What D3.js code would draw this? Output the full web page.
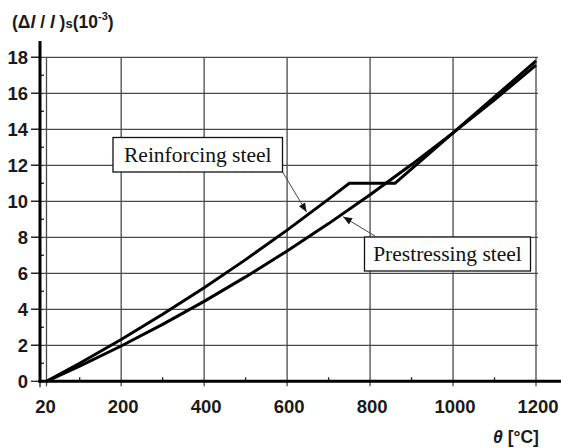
<!DOCTYPE html>
<html>
<head>
<meta charset="utf-8">
<script src="https://cdn.jsdelivr.net/npm/d3@7"></script>
<style>
  html, body { margin: 0; padding: 0; background: #fff; }
  svg { display: block; }
</style>
</head>
<body>
<svg id="chart" width="561" height="448"></svg>
<script>
// Thermal elongation of steel (×10⁻³) versus temperature θ [°C]
const reinforcingTemp = [20, 100, 200, 300, 400, 500, 600, 700, 750, 860, 900, 1000, 1100, 1200];
const reinforcingStrain = [0, 1.0, 2.32, 3.72, 5.2, 6.76, 8.4, 10.12, 11.0, 11.0, 11.8, 13.8, 15.8, 17.8];

const prestressingTemp = [20, 100, 200, 300, 400, 500, 600, 700, 800, 900, 1000, 1100, 1200];
const prestressingStrain = [0, 0.84, 1.96, 3.16, 4.44, 5.8, 7.24, 8.76, 10.36, 12.04, 13.8, 15.64, 17.56];

const xTicks = [20, 200, 400, 600, 800, 1000, 1200];
const xMinorTicks = [100, 300, 500, 700, 900, 1100];
const yTicks = [0, 2, 4, 6, 8, 10, 12, 14, 16, 18];
const yMinorTicks = [1, 3, 5, 7, 9, 11, 13, 15, 17];

const seriesLabels = ["Reinforcing steel", "Prestressing steel"];

const svg = d3.select("#chart");

const x = d3.scaleLinear().domain([20, 1200]).range([46.5, 536]);
const y = d3.scaleLinear().domain([0, 18]).range([381.3, 57.3]);

const axisX = 40;          // position of the vertical axis line
const axisY = y(0);
const sans = "'Liberation Sans', Arial, sans-serif";
const serif = "'Liberation Serif', 'Times New Roman', serif";
const gridColor = "#4a4a4a";

// grid
const grid = svg.append("g");
grid.selectAll("line.h").data(yTicks.filter(d => d > 0)).join("line")
  .attr("x1", axisX - 9).attr("x2", 538)
  .attr("y1", d => y(d)).attr("y2", d => y(d))
  .attr("stroke", gridColor).attr("stroke-width", 1.3);
grid.selectAll("line.v").data(xTicks).join("line")
  .attr("x1", d => x(d)).attr("x2", d => x(d))
  .attr("y1", y(18)).attr("y2", axisY + 5)
  .attr("stroke", gridColor).attr("stroke-width", 1.3);

// y axis ticks and labels
svg.append("g").selectAll("line").data(yTicks).join("line")
  .attr("x1", axisX - 9).attr("x2", axisX)
  .attr("y1", d => y(d)).attr("y2", d => y(d))
  .attr("stroke", "#222").attr("stroke-width", 1.3);
svg.append("g").selectAll("line").data(yMinorTicks).join("line")
  .attr("x1", axisX).attr("x2", axisX + 4)
  .attr("y1", d => y(d)).attr("y2", d => y(d))
  .attr("stroke", "#222").attr("stroke-width", 1.3);
svg.append("g").selectAll("text").data(yTicks).join("text")
  .attr("x", 28).attr("y", d => y(d) + 6.5)
  .attr("text-anchor", "end")
  .attr("font-family", sans).attr("font-weight", "bold").attr("font-size", 18.5)
  .attr("fill", "#1a1a1a")
  .text(d => d);

// x axis minor ticks and labels
svg.append("g").selectAll("line").data(xMinorTicks).join("line")
  .attr("x1", d => x(d)).attr("x2", d => x(d))
  .attr("y1", axisY - 4).attr("y2", axisY)
  .attr("stroke", "#222").attr("stroke-width", 1.3);
svg.append("line")
  .attr("x1", axisX).attr("x2", axisX)
  .attr("y1", axisY).attr("y2", axisY + 6)
  .attr("stroke", "#222").attr("stroke-width", 1.3);
svg.append("g").selectAll("text").data(xTicks).join("text")
  .attr("x", d => x(d) + (d === 20 ? -1 : 2)).attr("y", 413)
  .attr("text-anchor", "middle")
  .attr("font-family", sans).attr("font-weight", "bold").attr("font-size", 18.5)
  .attr("fill", "#1a1a1a")
  .text(d => d);

// axis lines
svg.append("line")
  .attr("x1", axisX).attr("x2", axisX).attr("y1", 41).attr("y2", axisY + 1.5)
  .attr("stroke", "#000").attr("stroke-width", 3);
svg.append("line")
  .attr("x1", axisX - 1.5).attr("x2", 561).attr("y1", axisY).attr("y2", axisY)
  .attr("stroke", "#000").attr("stroke-width", 3);

// curves
const line = d3.line().x(d => x(d[0])).y(d => y(d[1])).curve(d3.curveLinear);
const reinforcing = reinforcingTemp.map((t, i) => [t, reinforcingStrain[i]]);
const prestressing = prestressingTemp.map((t, i) => [t, prestressingStrain[i]]);
svg.append("path").datum(prestressing).attr("d", line)
  .attr("fill", "none").attr("stroke", "#000").attr("stroke-width", 3)
  .attr("stroke-linejoin", "round");
svg.append("path").datum(reinforcing).attr("d", line)
  .attr("fill", "none").attr("stroke", "#000").attr("stroke-width", 3)
  .attr("stroke-linejoin", "miter");

// leader arrows
const defs = svg.append("defs");
defs.append("marker").attr("id", "arrow")
  .attr("viewBox", "0 0 10 10").attr("refX", 10).attr("refY", 5)
  .attr("markerWidth", 9).attr("markerHeight", 9).attr("markerUnits", "userSpaceOnUse")
  .attr("orient", "auto")
  .append("path").attr("d", "M0,1 L10,5 L0,9 Z").attr("fill", "#111");

function callout(text, bx, by, bw, bh, from, toT, toV) {
  svg.append("line")
    .attr("x1", from[0]).attr("y1", from[1])
    .attr("x2", x(toT)).attr("y2", y(toV))
    .attr("stroke", "#444").attr("stroke-width", 1)
    .attr("marker-end", "url(#arrow)");
  svg.append("rect")
    .attr("x", bx).attr("y", by).attr("width", bw).attr("height", bh)
    .attr("fill", "#fff").attr("stroke", "#111").attr("stroke-width", 1.3);
  svg.append("text")
    .attr("x", bx + bw / 2).attr("y", by + bh / 2 + 7)
    .attr("text-anchor", "middle")
    .attr("font-family", serif).attr("font-size", 21.5).attr("fill", "#111")
    .text(text);
}
// arrow tips sit just beside each curve
callout(seriesLabels[0], 113, 137.5, 169.5, 34.5, [282, 171], 647, 9.4);
callout(seriesLabels[1], 364.5, 237, 166, 34, [375, 236], 735, 9.14);

// axis titles
const yTitle = svg.append("text")
  .attr("x", 12).attr("y", 28)
  .attr("font-family", sans).attr("font-weight", "bold").attr("font-size", 17.5)
  .attr("fill", "#1a1a1a");
yTitle.append("tspan").text("(Δ");
yTitle.append("tspan").attr("font-style", "italic").text("l");
yTitle.append("tspan").text(" /");
yTitle.append("tspan").attr("font-style", "italic").text(" l");
yTitle.append("tspan").text(" )");
yTitle.append("tspan").attr("font-size", 13).text("s");
yTitle.append("tspan").text("(10");
yTitle.append("tspan").attr("font-size", 11).attr("dy", -8).text("-3");
yTitle.append("tspan").attr("dy", 8).text(")");

const xTitle = svg.append("text")
  .attr("x", 493).attr("y", 443)
  .attr("font-family", sans).attr("font-weight", "bold").attr("font-size", 17.5)
  .attr("fill", "#1a1a1a");
xTitle.append("tspan").attr("font-style", "italic").text("θ");
xTitle.append("tspan").text(" [°C]");
</script>
</body>
</html>
